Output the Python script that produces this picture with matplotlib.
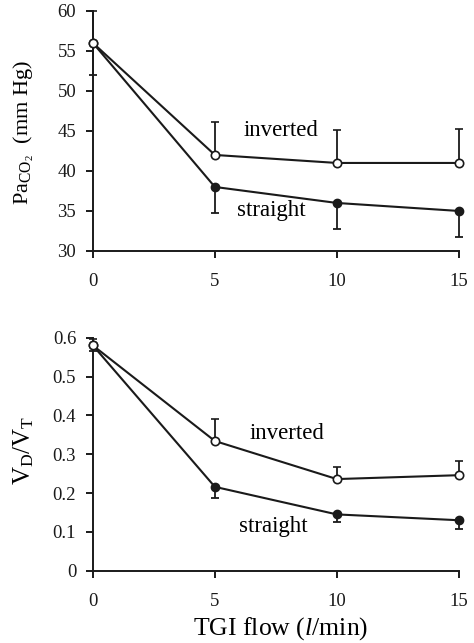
import matplotlib
matplotlib.use('Agg')
import matplotlib.pyplot as plt

plt.rcParams['font.family'] = ['Liberation Serif', 'DejaVu Serif']
plt.rcParams['mathtext.fontset'] = 'custom'
plt.rcParams['mathtext.rm'] = 'Liberation Serif'
plt.rcParams['mathtext.it'] = 'Liberation Serif:italic'

flow = [0, 5, 10, 15]

# PaCO2 (mm Hg)
paco2_inverted = [56, 42, 41, 41]
paco2_inverted_err = [4, 4.1, 4.1, 4.2]
paco2_straight = [56, 38, 36, 35]
paco2_straight_err = [4, 3.2, 3.2, 3.2]

# VD/VT
vdvt_inverted = [0.58, 0.334, 0.236, 0.246]
vdvt_inverted_err = [0.017, 0.056, 0.031, 0.037]
vdvt_straight = [0.58, 0.216, 0.145, 0.13]
vdvt_straight_err = [0.015, 0.03, 0.02, 0.023]

fig = plt.figure(figsize=(4.74, 6.43), dpi=100)
ax1 = fig.add_axes([0.196, 0.6097, 0.772, 0.3733])
ax2 = fig.add_axes([0.196, 0.1124, 0.772, 0.3624])


def draw(ax, inv, inv_err, st, st_err):
    lw = 1.5
    ax.errorbar(flow, st, yerr=[st_err, [0] * len(st)], color='#1a1a1a', lw=lw,
                marker='o', ms=6, mfc='#1a1a1a', mec='#1a1a1a', capsize=3.2,
                elinewidth=1.3, capthick=1.3, clip_on=False, zorder=3)
    ax.errorbar(flow, inv, yerr=[[0] * len(inv), inv_err], color='#1a1a1a', lw=lw,
                marker='o', ms=6, mfc='white', mec='#1a1a1a', mew=1.2, capsize=3.2,
                elinewidth=1.3, capthick=1.3, clip_on=False, zorder=4)
    ax.set_xlim(0, 15)
    ax.set_xticks(flow)
    for s in ['top', 'right']:
        ax.spines[s].set_visible(False)
    for s in ['left', 'bottom']:
        ax.spines[s].set_linewidth(1.4)
        ax.spines[s].set_color('#1a1a1a')
    ax.tick_params(direction='out', length=5, width=1.4, labelsize=13.5,
                   colors='#1a1a1a', pad=7)
    ax.tick_params(axis='x', pad=11)


draw(ax1, paco2_inverted, paco2_inverted_err, paco2_straight, paco2_straight_err)
ax1.set_ylim(30, 60)
ax1.set_yticks([30, 35, 40, 45, 50, 55, 60])
ax1.text(7.7, 45.1, 'inverted', ha='center', va='center', fontsize=16.5)
ax1.text(7.33, 35.0, 'straight', ha='center', va='center', fontsize=16.5)
fig.text(0.05, 1 - 133 / 643, r'Pa$\mathregular{_{CO_2}}$  (mm Hg)', rotation=90,
         ha='center', va='center', fontsize=16)

draw(ax2, vdvt_inverted, vdvt_inverted_err, vdvt_straight, vdvt_straight_err)
ax2.set_ylim(0, 0.6)
ax2.set_yticks([0, 0.1, 0.2, 0.3, 0.4, 0.5, 0.6])
ax2.set_yticklabels(['0', '0.1', '0.2', '0.3', '0.4', '0.5', '0.6'])
ax2.text(7.95, 0.354, 'inverted', ha='center', va='center', fontsize=16.5)
ax2.text(7.4, 0.113, 'straight', ha='center', va='center', fontsize=16.5)
fig.text(0.05, 1 - 450 / 643, r'V$_\mathregular{D}$/V$_\mathregular{T}$', rotation=90,
         ha='center', va='center', fontsize=18)
fig.text(281 / 474, 1 - 629 / 643, r'TGI flow ($\mathit{l}$/min)',
         ha='center', va='center', fontsize=18.5)

fig.savefig('out.png', dpi=100)
